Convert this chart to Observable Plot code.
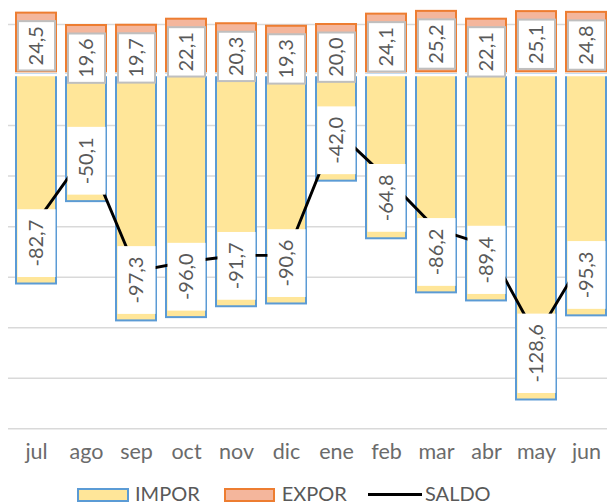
<!DOCTYPE html>
<html><head><meta charset="utf-8">
<script src="https://cdn.jsdelivr.net/npm/d3@7"></script>
<script src="https://cdn.jsdelivr.net/npm/@observablehq/plot@0.6"></script>
<style>
html,body{margin:0;padding:0;background:#fff;overflow:hidden}
body{width:607px;height:504px;font-family:'Lato','DejaVu Sans'}
#chart svg{display:block}
#chart svg, #chart svg text{font-family:'Lato','DejaVu Sans' !important}
#legend{position:relative;height:34px;width:607px;color:#595959;font-size:20px;font-family:'Lato','DejaVu Sans'}
#legend .sw{position:absolute;box-sizing:border-box}
#legend .tx{position:absolute;line-height:18px;white-space:nowrap}
</style></head><body>
<div id="chart"></div>
<div id="legend">
  <div class="sw" style="left:76.7px;top:18.3px;width:52px;height:14px;background:#FFE699;border:2px solid #5B9BD5"></div>
  <div class="tx" style="left:135px;top:13.5px">IMPOR</div>
  <div class="sw" style="left:224.3px;top:18.3px;width:51px;height:14px;background:#F4B69C;border:2px solid #ED7D31"></div>
  <div class="tx" style="left:281.7px;top:13.5px">EXPOR</div>
  <div class="sw" style="left:368.3px;top:23px;width:53.4px;height:2.8px;background:#000"></div>
  <div class="tx" style="left:425px;top:13.5px">SALDO</div>
</div>
<script>
const months = ["jul","ago","sep","oct","nov","dic","ene","feb","mar","abr","may","jun"];
const expor = [24.5,19.6,19.7,22.1,20.3,19.3,20.0,24.1,25.2,22.1,25.1,24.8];
const impor = [-82.7,-50.1,-97.3,-96.0,-91.7,-90.6,-42.0,-64.8,-86.2,-89.4,-128.6,-95.3];
const saldo = [-58.2,-30.5,-77.6,-73.9,-71.4,-71.3,-22.0,-40.7,-61.0,-67.3,-103.5,-70.5];
const yTicks = [20,-20,-40,-60,-80,-100,-120,-140];

const data = months.map((m, i) => ({month: m, expor: expor[i], impor: impor[i], saldo: saldo[i]}));
const fmt = v => v.toFixed(1).replace(".", ",");

const plot = Plot.plot({
  width: 607, height: 470,
  marginTop: 24, marginBottom: 41.7, marginLeft: 8, marginRight: 0,
  style: {fontFamily: "Lato, 'DejaVu Sans'", color: "#595959", background: "#fff"},
  x: {domain: months, range: [2.6, 618.7], padding: 0.2, label: null, axis: null},
  y: {domain: [-140, 20], range: [428.3, 24], axis: null},
  marks: [
    Plot.ruleY(yTicks, {stroke: "#d9d9d9", strokeWidth: 1.5}),
    Plot.barY(data, {x: "month", y1: 0, y2: "impor", fill: "#FFE699", stroke: "#5B9BD5", strokeWidth: 2}),
    Plot.barY(data, {x: "month", y1: 0, y2: "expor", fill: "#F4B69C", stroke: "#ED7D31", strokeWidth: 2, insetBottom: 3.2}),
    Plot.ruleY([0], {stroke: "#fff", strokeWidth: 2.4}),
    Plot.line(data, {x: "month", y: "saldo", stroke: "#000", strokeWidth: 2.9}),
    Plot.text(data, {x: "month", y: "expor", text: d => fmt(d.expor), rotate: -90, textAnchor: "end", lineAnchor: "middle", dy: 13, fontSize: 20, fill: "#595959"}),
    Plot.text(data, {x: "month", y: "impor", text: d => fmt(d.impor), rotate: -90, textAnchor: "start", lineAnchor: "middle", dy: -17.5, fontSize: 20, fill: "#595959"}),
    Plot.text(months, {x: d => d, text: d => d, frameAnchor: "bottom", lineAnchor: "top", dy: 15.4, fontSize: 21.5, fill: "#6b6b6b"})
  ]
});
document.getElementById("chart").append(plot);

const NS = "http://www.w3.org/2000/svg";
const re = /^-?\d+,\d$/;
Array.from(plot.querySelectorAll("text")).forEach(t => {
  const s = (t.textContent || "").trim();
  if (!re.test(s)) return;
  const neg = s.startsWith("-");
  const pad = neg ? 10.5 : 5;
  const h = neg ? 38 : 37;
  const b = t.getBBox();
  const r = document.createElementNS(NS, "rect");
  const tr = t.getAttribute("transform");
  if (tr) r.setAttribute("transform", tr);
  r.setAttribute("x", b.x - pad);
  r.setAttribute("width", b.width + 2 * pad);
  r.setAttribute("y", -h / 2);
  r.setAttribute("height", h);
  r.setAttribute("fill", "#fff");
  r.setAttribute("stroke", neg ? "none" : "#bfbfbf");
  r.setAttribute("stroke-width", 2);
  t.parentNode.insertBefore(r, t);
});
</script>
</body></html>
